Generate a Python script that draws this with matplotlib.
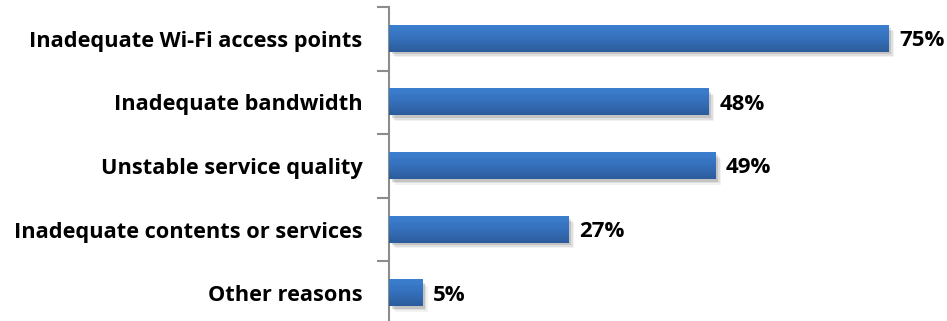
import matplotlib.pyplot as plt
import matplotlib.patheffects as pe
import numpy as np
from matplotlib.colors import LinearSegmentedColormap

reasons = [
    'Inadequate Wi-Fi access points',
    'Inadequate bandwidth',
    'Unstable service quality',
    'Inadequate contents or services',
    'Other reasons',
]
shares = [75, 48, 49, 27, 5]

W, H, DPI = 947, 321, 100
fig = plt.figure(figsize=(W / DPI, H / DPI), dpi=DPI)

# axes box in pixels: left edge at the axis line, bottom runs slightly off the canvas
left_px, top_px, right_px, bottom_px = 389, 7, 922, 325
ax = fig.add_axes([left_px / W, (H - bottom_px) / H,
                   (right_px - left_px) / W, (bottom_px - top_px) / H])

ypos = np.arange(len(reasons))
bar_h = 0.41
grad = LinearSegmentedColormap.from_list('bar', ['#3c7fd0', '#3570bb', '#2c5c9b'])
shadow = [
    pe.SimplePatchShadow(offset=(4, -4), shadow_rgbFace='#000000', alpha=0.05),
    pe.SimplePatchShadow(offset=(3, -3), shadow_rgbFace='#000000', alpha=0.08),
    pe.SimplePatchShadow(offset=(1.8, -1.8), shadow_rgbFace='#000000', alpha=0.12),
    pe.Normal(),
]

bars = ax.barh(ypos, shares, height=bar_h, color='#3673c0', zorder=2)
# vertical gradient, light at the top edge of each bar
gradient = np.linspace(0, 1, 64).reshape(-1, 1)
for bar in bars:
    bar.set_path_effects(shadow)
    x0, y0 = bar.get_x(), bar.get_y()
    w, h = bar.get_width(), bar.get_height()
    ax.imshow(gradient, cmap=grad, aspect='auto', origin='upper',
              extent=(x0, x0 + w, y0 + h, y0), zorder=3, interpolation='bilinear')

for y, v in zip(ypos, shares):
    ax.text(v + 1.6, y + 0.03, f'{v}%', va='center', ha='left',
            fontsize=16, fontweight='bold', family='Open Sans', color='black')

ax.set_xlim(0, 80)
ax.set_ylim(len(reasons) - 0.5, -0.5)

ax.set_yticks(ypos)
ax.set_yticklabels(reasons, fontsize=15.7, fontweight='bold', family='Open Sans')
ax.tick_params(axis='y', which='major', length=0, pad=19)
ax.set_yticks(np.arange(-0.5, len(reasons)), minor=True)
ax.tick_params(axis='y', which='minor', length=9, width=1.5, color='#8c8c8c', direction='out')
ax.set_xticks([])

for side in ['top', 'right', 'bottom']:
    ax.spines[side].set_visible(False)
ax.spines['left'].set_color('#8c8c8c')
ax.spines['left'].set_linewidth(1.5)

fig.savefig('out.png', dpi=DPI)
